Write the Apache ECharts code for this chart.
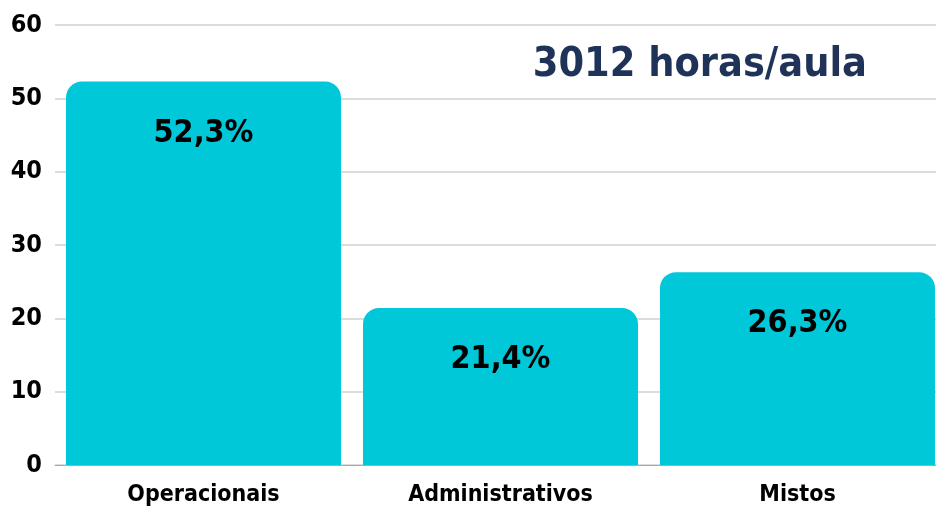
<!DOCTYPE html>
<html>

<head>
    <meta charset="utf-8">
    <script src="https://cdn.jsdelivr.net/npm/echarts@6/dist/echarts.min.js"></script>
    <style>
        body { margin: 0; background: #fff; }
        #main { width: 936px; height: 515px; }
    </style>
</head>

<body>
    <div id="main"></div>
</body>
<script>
    var categories = ['Operacionais', 'Administrativos', 'Mistos'];
    var values = [52.3, 21.4, 26.3];
    var yTicks = [0, 10, 20, 30, 40, 50, 60];
    var titleText = '3012 horas/aula';

    var condensed = '"DejaVu Sans Condensed", "Liberation Sans Narrow", Roboto, sans-serif';

    var myChart = echarts.init(document.getElementById('main'));
    myChart.setOption({
        animation: false,
        title: {
            text: titleText,
            right: 64,
            top: 40,
            textStyle: {
                fontFamily: condensed,
                fontWeight: 'bold',
                fontSize: 41,
                color: '#1f3358'
            }
        },
        grid: {
            left: 55,
            right: -10,
            top: 25,
            bottom: 50,
            outerBoundsMode: 'none'
        },
        xAxis: {
            type: 'category',
            data: categories,
            axisTick: { show: false },
            axisLine: { lineStyle: { color: '#aaa', width: 1 } },
            axisLabel: {
                color: '#000',
                fontFamily: condensed,
                fontWeight: 'bold',
                fontSize: 23,
                margin: 19
            }
        },
        yAxis: {
            type: 'value',
            min: yTicks[0],
            max: yTicks[yTicks.length - 1],
            interval: 10,
            axisLine: { show: false },
            axisTick: { show: false },
            splitLine: { lineStyle: { color: '#dcdcdc', width: 2 } },
            axisLabel: {
                color: '#000',
                fontFamily: condensed,
                fontWeight: 'bold',
                fontSize: 25,
                margin: 13
            }
        },
        series: [{
            type: 'bar',
            data: values,
            barCategoryGap: '7.4%',
            itemStyle: {
                color: '#00c8d9',
                borderRadius: [16, 16, 0, 0]
            },
            label: {
                show: true,
                position: 'insideTop',
                distance: 36,
                formatter: function(p) {
                    return String(p.value).replace('.', ',') + '%';
                },
                color: '#000',
                fontFamily: condensed,
                fontWeight: 'bold',
                fontSize: 32
            }
        }]
    });
</script>

</html>
